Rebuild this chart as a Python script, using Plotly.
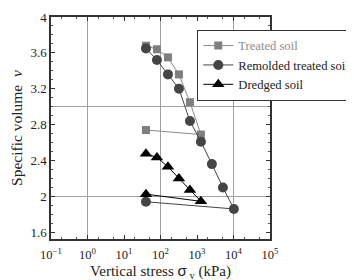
import plotly.graph_objects as go

treated_x = [40, 80, 160, 320, 640, 1280, 40]
treated_v = [3.68, 3.64, 3.55, 3.36, 3.05, 2.69, 2.74]

remolded_x = [40, 80, 160, 320, 640, 1280, 2560, 5120, 10240, 40]
remolded_v = [3.65, 3.52, 3.36, 3.20, 2.84, 2.61, 2.36, 2.10, 1.86, 1.94]

dredged_x = [40, 80, 160, 320, 640, 1280, 40]
dredged_v = [2.475, 2.435, 2.33, 2.20, 2.07, 1.945, 2.025]

x_tickvals = [0.1, 1, 10, 100, 1000, 10000, 100000]
x_ticktext = ["10<sup>−1</sup>", "10<sup>0</sup>", "10<sup>1</sup>", "10<sup>2</sup>",
              "10<sup>3</sup>", "10<sup>4</sup>", "10<sup>5</sup>"]
y_tickvals = [1.6, 2.0, 2.4, 2.8, 3.2, 3.6, 4.0]
y_ticktext = ["1.6", "2", "2.4", "2.8", "3.2", "3.6", "4"]

FONT = "Liberation Serif"

fig = go.Figure()
fig.add_trace(go.Scatter(x=treated_x, y=treated_v, mode="lines+markers",
                         name="<span style='color:#8c8c8c'>Treated soil</span>",
                         line=dict(color="#8a8a8a", width=1),
                         marker=dict(symbol="square", size=8, color="#7f7f7f")))
fig.add_trace(go.Scatter(x=remolded_x, y=remolded_v, mode="lines+markers", name="Remolded treated soil",
                         line=dict(color="#444444", width=1),
                         marker=dict(symbol="circle", size=10, color="#454545")))
fig.add_trace(go.Scatter(x=dredged_x, y=dredged_v, mode="lines+markers", name="Dredged soil",
                         line=dict(color="#000000", width=1),
                         marker=dict(symbol="triangle-up", size=11, color="#000000")))
# empty trace to bind the grid overlay axes
fig.add_trace(go.Scatter(x=[], y=[], xaxis="x2", yaxis="y2", showlegend=False))

fig.update_layout(
    width=354, height=280,
    margin=dict(l=43, r=92, t=9, b=49, autoexpand=False),
    paper_bgcolor="white", plot_bgcolor="white",
    font=dict(family=FONT, size=12, color="#222222"),
    showlegend=True,
    legend=dict(x=0.668, y=0.942, xanchor="left", yanchor="top",
                bgcolor="white", bordercolor="#333333", borderwidth=1,
                font=dict(family=FONT, size=12.6, color="#222222"),
                tracegroupgap=0, itemwidth=30, traceorder="normal"),
    xaxis=dict(type="log", range=[-1, 5], tickvals=x_tickvals, ticktext=x_ticktext,
               ticks="inside", ticklen=4, tickcolor="#333", showgrid=False,
               showline=True, linecolor="#333", linewidth=1.5, mirror="ticks",
               minor=dict(ticks="inside", ticklen=2, tickcolor="#555", showgrid=False),
               tickfont=dict(size=12.5, family=FONT, color="#222"), automargin=False,
               ticklabelstandoff=3,
               title=dict(text="Vertical stress <span style='font-family:Liberation Sans'>σ</span><sub> v</sub> (kPa)",
                          font=dict(size=15, family=FONT, color="#222"), standoff=2),
               zeroline=False),
    yaxis=dict(range=[1.525, 4.0], tickvals=y_tickvals, ticktext=y_ticktext,
               ticks="inside", ticklen=4, tickcolor="#333", showgrid=False,
               showline=True, linecolor="#333", linewidth=1.5, mirror="ticks",
               minor=dict(ticks="inside", ticklen=2, tickcolor="#555", dtick=0.1, showgrid=False),
               tickfont=dict(size=13, family=FONT, color="#222"), automargin=False,
               title=dict(text="Specific volume  <i>v</i>",
                          font=dict(size=15.5, family=FONT, color="#222"), standoff=6),
               zeroline=False),
    xaxis2=dict(overlaying="x", range=[-1, 5], tick0=0, dtick=2, showgrid=True,
                gridcolor="#a0a0a0", gridwidth=1, showticklabels=False, ticks="",
                showline=False, zeroline=False, automargin=False),
    yaxis2=dict(overlaying="y", range=[1.525, 4.0], tick0=0, dtick=1, showgrid=True,
                gridcolor="#a0a0a0", gridwidth=1, showticklabels=False, ticks="",
                showline=False, zeroline=False, automargin=False),
)
fig.write_html("out.html")
